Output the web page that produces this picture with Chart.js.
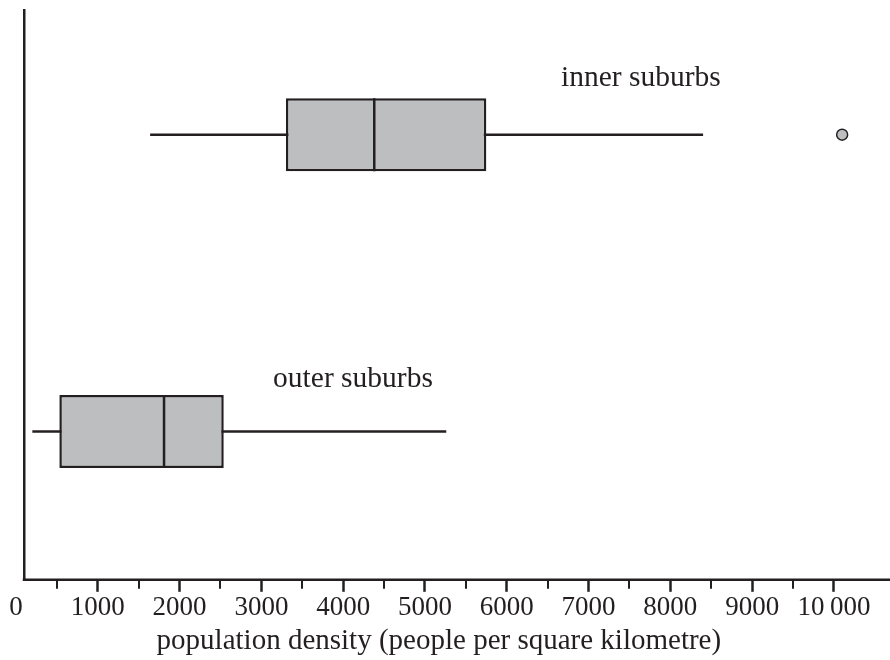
<!DOCTYPE html>
<html>
<head>
<meta charset="utf-8">
<title>Population density box plots</title>
<script src="https://cdn.jsdelivr.net/npm/chart.js@4"></script>
<style>
  body { margin: 0; background: #fff; }
  #wrap { width: 890px; height: 660px; }
</style>
</head>
<body>
<div id="wrap"><canvas id="boxChart"></canvas></div>
<script>
// data
let groups = ["inner suburbs", "outer suburbs"];
let mins = [1640, 200];
let q1s = [3300, 530];
let medians = [4380, 1810];
let q3s = [5750, 2540];
let maxs = [8400, 5260];
let outliers = [[10100], []];
let tickValues = [0, 1000, 2000, 3000, 4000, 5000, 6000, 7000, 8000, 9000, 10000];

const ink = "#231f20";
const boxFill = "#bcbec0";
const serif = "'Liberation Serif', 'Times New Roman', serif";

// one whisker line per group, drawn under the box
const whiskerSets = groups.map((g, i) => ({
  type: "scatter",
  label: g + " whisker",
  data: [{ x: mins[i], y: i }, { x: maxs[i], y: i }],
  showLine: true,
  borderColor: ink,
  borderWidth: 2.5,
  pointRadius: 0,
  order: 3,
}));

const boxSet = {
  label: "Q1 to Q3",
  indexAxis: "y",
  data: groups.map((g, i) => ({ y: i, x: [q1s[i], q3s[i]] })),
  backgroundColor: boxFill,
  borderColor: ink,
  borderWidth: 2.5,
  borderSkipped: false,
  barThickness: 73,
  grouped: false,
  inflateAmount: 0,
  order: 2,
};

// median drawn as a vertical line marker
const medianSet = {
  type: "scatter",
  label: "median",
  data: groups.map((g, i) => ({ x: medians[i], y: i })),
  pointStyle: "line",
  rotation: 90,
  pointRadius: 36.5,
  borderColor: ink,
  borderWidth: 2.5,
  order: 1,
};

const outlierSet = {
  type: "scatter",
  label: "outliers",
  data: [],
  pointRadius: 5.5,
  pointBackgroundColor: boxFill,
  pointBorderColor: ink,
  pointBorderWidth: 1.5,
  order: 1,
};
outliers.forEach((list, i) => {
  list.forEach((v) => outlierSet.data.push({ x: v, y: i }));
});

// group names, bottom axis line from the y axis and the half-way ticks
const extras = {
  id: "extras",
  afterDatasetsDraw(chart, args, opts) {
    const ctx = chart.ctx;
    const xs = chart.scales.x;
    const ys = chart.scales.y;
    ctx.save();
    ctx.fillStyle = ink;
    ctx.font = opts.labelFont;
    ctx.textAlign = "center";
    ctx.textBaseline = "alphabetic";
    groups.forEach((g, i) => {
      const p = opts.labelAt[i];
      ctx.fillText(g, xs.getPixelForValue(p.x), ys.getPixelForValue(p.y));
    });
    ctx.strokeStyle = ink;
    const bottom = chart.chartArea.bottom;
    ctx.lineWidth = 2.5;
    ctx.beginPath();
    ctx.moveTo(ys.right - 1.25, bottom);
    ctx.lineTo(xs.right, bottom);
    ctx.stroke();
    ctx.lineWidth = 2;
    for (let i = 1; i < tickValues.length; i++) {
      const v = (tickValues[i - 1] + tickValues[i]) / 2;
      const px = Math.round(xs.getPixelForValue(v));
      ctx.beginPath();
      ctx.moveTo(px, bottom);
      ctx.lineTo(px, bottom + 9);
      ctx.stroke();
    }
    ctx.restore();
  },
};

const ctx = document.getElementById("boxChart").getContext("2d");
const boxChart = new Chart(ctx, {
  type: "bar",
  data: {
    datasets: [boxSet, medianSet].concat(whiskerSets, [outlierSet]),
  },
  options: {
    responsive: true,
    maintainAspectRatio: false,
    animation: false,
    events: [],
    layout: { autoPadding: false, padding: { left: 24, right: 0, top: 10, bottom: 1 } },
    plugins: {
      legend: { display: false },
      tooltip: { enabled: false },
      extras: {
        labelFont: "29.5px " + serif,
        labelAt: [{ x: 7640, y: -0.163 }, { x: 4120, y: 0.851 }],
      },
    },
    scales: {
      x: {
        type: "linear",
        position: "bottom",
        offset: false,
        min: 98,
        max: 10685,
        afterBuildTicks: (scale) => {
          scale.ticks = tickValues.map((v) => ({ value: v }));
        },
        ticks: {
          autoSkip: false,
          maxRotation: 0,
          padding: 0,
          color: ink,
          font: { family: serif, size: 27 },
          callback: (v) => (v >= 10000 ? "10\u2009000" : String(v)),
        },
        grid: {
          display: true,
          offset: false,
          drawOnChartArea: false,
          drawTicks: true,
          tickLength: 12,
          tickWidth: 2.5,
          tickColor: (c) => (c.tick && c.tick.value === 0 ? "rgba(0,0,0,0)" : ink),
        },
        border: { display: false },
        title: {
          display: true,
          text: "population density (people per square kilometre)     ",
          color: ink,
          font: { family: serif, size: 29 },
          padding: { top: 0, bottom: 0 },
        },
      },
      y: {
        type: "linear",
        reverse: true,
        offset: false,
        min: -0.42,
        max: 1.5,
        ticks: { display: false },
        grid: { display: false, offset: false, drawTicks: false },
        border: { display: true, color: ink, width: 2.5 },
      },
    },
  },
  plugins: [extras],
});
</script>
</body>
</html>
